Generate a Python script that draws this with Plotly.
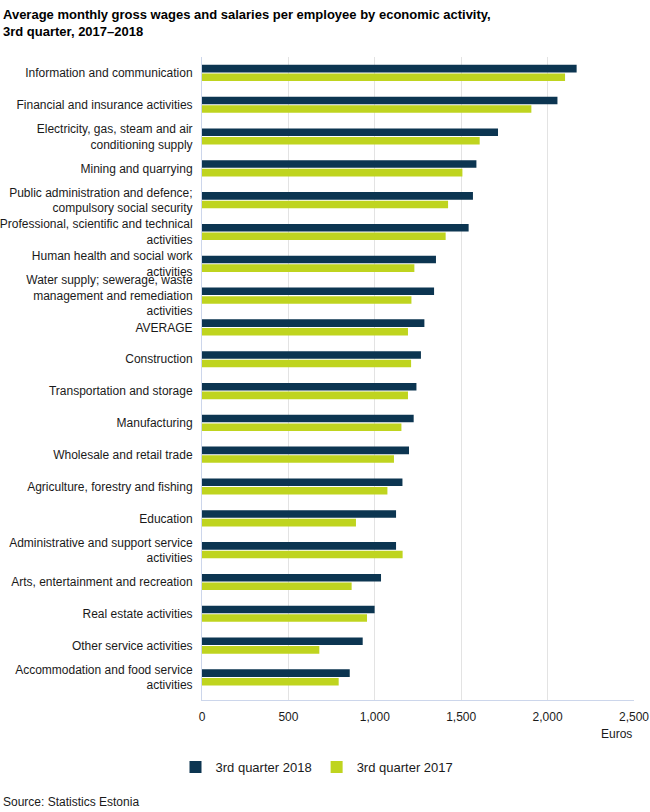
import plotly.graph_objects as go

categories = [
    "Information and communication",
    "Financial and insurance activities",
    "Electricity, gas, steam and air<br>conditioning supply",
    "Mining and quarrying",
    "Public administration and defence;<br>compulsory social security",
    "Professional, scientific and technical<br>activities",
    "Human health and social work<br>activities",
    "Water supply; sewerage, waste<br>management and remediation<br>activities",
    "AVERAGE",
    "Construction",
    "Transportation and storage",
    "Manufacturing",
    "Wholesale and retail trade",
    "Agriculture, forestry and fishing",
    "Education",
    "Administrative and support service<br>activities",
    "Arts, entertainment and recreation",
    "Real estate activities",
    "Other service activities",
    "Accommodation and food service<br>activities",
]

q3_2018 = [2168, 2057, 1713, 1588, 1568, 1543, 1354, 1343, 1287, 1267,
           1241, 1225, 1198, 1160, 1123, 1123, 1036, 999, 930, 855]
q3_2017 = [2101, 1906, 1607, 1507, 1424, 1410, 1229, 1212, 1192, 1210,
           1192, 1154, 1111, 1073, 891, 1161, 866, 955, 679, 791]

series_names = ["3rd quarter 2018", "3rd quarter 2017"]
colors = ["#0c3551", "#bfd41f"]

FONT = "Liberation Sans, Arial, sans-serif"
TXT = "#1a1a1a"

# plot area in pixels
L, R, T, B = 202, 634, 57, 700
PW, PH = R - L, B - T

def px_x(x):
    return (x - L) / PW

def px_y(y):
    return (B - y) / PH

fig = go.Figure()
for name, vals, col in zip(series_names, [q3_2018, q3_2017], colors):
    fig.add_trace(go.Bar(
        y=categories, x=vals, name=name, orientation="h",
        marker=dict(color=col, line=dict(width=0)),
    ))

fig.update_layout(
    width=650, height=812,
    margin=dict(l=L, r=650 - R, t=T, b=812 - B, autoexpand=False),
    paper_bgcolor="white", plot_bgcolor="white",
    font=dict(family=FONT, size=12, color=TXT),
    barmode="group", bargap=0.46, bargroupgap=0.12,
    showlegend=True,
    legend=dict(
        orientation="h", x=px_x(175.5), xanchor="left", y=px_y(767), yanchor="middle",
        font=dict(family=FONT, size=13, color=TXT), traceorder="normal",
    ),
    xaxis=dict(
        range=[0, 2500], dtick=500, tickformat=",", showgrid=True,
        gridcolor="#e3e3e3", gridwidth=1, zeroline=False,
        showline=True, linecolor="#ccd6eb", linewidth=1, ticks="",
        ticklabelstandoff=6, tickfont=dict(size=12, color=TXT),
        automargin=False,
    ),
    yaxis=dict(
        range=[19.71, -0.5], showline=True, linecolor="#ccd6eb", linewidth=1,
        showgrid=False, ticks="", ticklabelstandoff=6,
        tickfont=dict(size=12, color=TXT), automargin=False,
    ),
    annotations=[
        dict(text="<b>Average monthly gross wages and salaries per employee by economic activity,<br>3rd quarter, 2017\u20132018</b>",
             xref="paper", yref="paper", x=px_x(1), y=px_y(5),
             xanchor="left", yanchor="top", align="left", showarrow=False,
             font=dict(family=FONT, size=13, color="#000000")),
        dict(text="Euros", xref="paper", yref="paper", x=1.0, y=px_y(734),
             xanchor="right", yanchor="middle", showarrow=False,
             font=dict(size=12, color=TXT)),
        dict(text="Source: Statistics Estonia", xref="paper", yref="paper",
             x=px_x(1), y=px_y(802), xanchor="left", yanchor="middle",
             showarrow=False, font=dict(size=12, color=TXT)),
    ],
)

fig.write_html("out.html", config={"displayModeBar": False},
               post_script="document.body.style.margin='0';document.body.style.overflow='hidden';")
